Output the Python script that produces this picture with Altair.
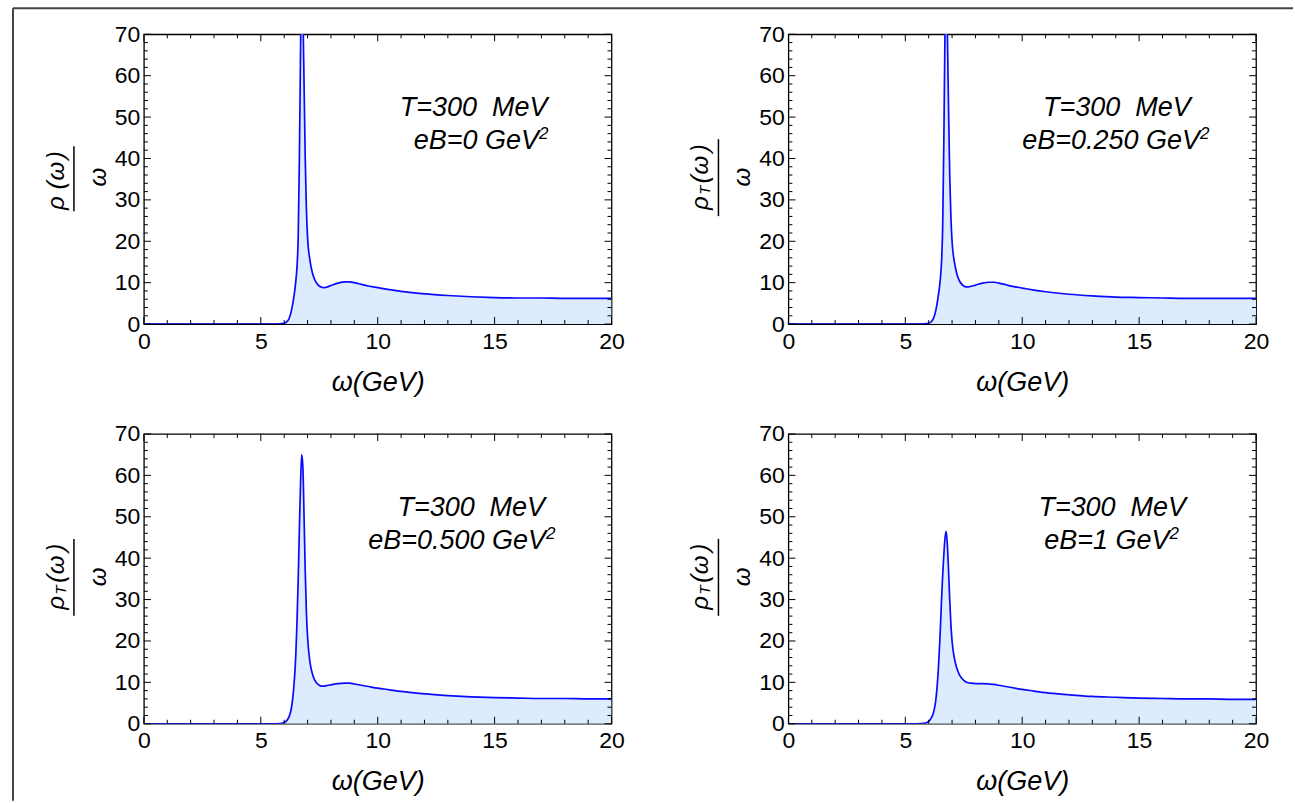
import altair as alt
import pandas as pd

# ---------------- data ----------------
omega = [0, 2, 4, 5, 5.5, 5.8, 6.0, 6.1, 6.2, 6.3, 6.4, 6.5, 6.55, 6.6, 6.65,
         6.7, 6.75, 6.8, 6.85, 6.9, 6.95, 7.0, 7.1, 7.2, 7.3, 7.4, 7.5, 7.6,
         7.7, 7.8, 8.0, 8.3, 8.6, 8.8, 9.0, 9.3, 9.6, 10, 10.5, 11, 12, 13,
         14, 15, 16, 17, 18, 19, 20]

rho_eb0 = [0, 0, 0, 0, 0, 0.05, 0.2, 0.5, 1.2, 3.0, 6.0, 10.5, 14, 21, 40,
           66, 88, 76, 58, 40, 28, 21, 15.5, 12.5, 10.8, 9.8, 9.2, 8.9,
           8.8, 8.9, 9.3, 9.9, 10.2, 10.2, 10.0, 9.6, 9.2, 8.8, 8.3, 7.9, 7.3, 6.9,
           6.6, 6.4, 6.3, 6.3, 6.2, 6.2, 6.2]

rho_eb025 = [0, 0, 0, 0, 0, 0.05, 0.2, 0.5, 1.3, 3.2, 6.4, 11, 15, 24, 45,
             72, 86, 70, 52, 36, 26, 20, 15, 12.2, 10.6, 9.7, 9.2, 9.0,
             9.0, 9.1, 9.4, 9.9, 10.1, 10.1, 9.9, 9.5, 9.1, 8.7, 8.2, 7.8, 7.2, 6.8,
             6.5, 6.4, 6.3, 6.2, 6.2, 6.2, 6.2]

rho_eb050 = [0, 0, 0, 0, 0, 0.05, 0.3, 0.7, 1.6, 3.5, 8.0, 17, 25, 35, 47,
             58, 65, 62, 50, 37, 27, 21, 15, 12.2, 10.6, 9.8, 9.3, 9.1,
             9.1, 9.2, 9.4, 9.7, 9.8, 9.8, 9.6, 9.3, 9.0, 8.6, 8.2, 7.8, 7.2, 6.8,
             6.5, 6.3, 6.2, 6.1, 6.1, 6.0, 6.0]

rho_eb100 = [0, 0, 0, 0, 0, 0.1, 0.6, 1.3, 2.6, 5.5, 12, 23, 30, 36, 41,
             45, 46.5, 43, 37, 30, 24, 20, 15.8, 13.5, 12, 11.1, 10.5, 10.1,
             9.9, 9.8, 9.7, 9.7, 9.6, 9.5, 9.3, 9.0, 8.7, 8.3, 7.9, 7.5, 7.0, 6.6,
             6.4, 6.2, 6.1, 6.0, 6.0, 5.9, 5.9]

panel_eb = ["eB=0 GeV", "eB=0.250 GeV", "eB=0.500 GeV", "eB=1 GeV"]
panel_temp = "T=300\u00a0\u00a0MeV"

x_major = [0, 5, 10, 15, 20]
x_minor = [1, 2, 3, 4, 6, 7, 8, 9, 11, 12, 13, 14, 16, 17, 18, 19]
y_major = [0, 10, 20, 30, 40, 50, 60, 70]
y_minor = [2, 4, 6, 8, 12, 14, 16, 18, 22, 24, 26, 28, 32, 34, 36, 38,
           42, 44, 46, 48, 52, 54, 56, 58, 62, 64, 66, 68]

# ---------------- styling ----------------
W, H = 468, 290
FONT = "Liberation Sans"
LINE = "#0a0aff"
FILL = "#dcebfd"
dummy = pd.DataFrame({"d": [0]})

XS = alt.Scale(domain=[0, 20], nice=False, zero=False)
YS = alt.Scale(domain=[0, 70], nice=False)
XAXIS = alt.Axis(values=x_major, ticks=False, domain=False, grid=False,
                 labelFont=FONT, labelFontSize=23, labelColor="black",
                 labelPadding=6, labelFlush=False, labelOverlap=False,
                 title="ω(GeV)", titleFont=FONT, titleFontSize=27,
                 titleFontStyle="italic", titleFontWeight="normal",
                 titleColor="black", titleY=58, titleBaseline="middle")
YAXIS = alt.Axis(values=y_major, ticks=False, domain=False, grid=False,
                 labelFont=FONT, labelFontSize=23, labelColor="black",
                 labelPadding=4, labelFlush=False, labelOverlap=False,
                 title=None)


def xq(field):
    return alt.X(field, type="quantitative", scale=XS, axis=XAXIS, title="ω(GeV)")


def yq(field):
    return alt.Y(field, type="quantitative", scale=YS, axis=YAXIS, title=None)


def text_layer(txt, x, y, size=24, angle=None, align="center",
               baseline="alphabetic", style="italic", dy=None):
    kw = dict(text=txt, font=FONT, fontSize=size, fontStyle=style,
              color="black", align=align, baseline=baseline)
    if angle is not None:
        kw["angle"] = angle
    if dy is not None:
        kw["dy"] = dy
    return alt.Chart(dummy).mark_text(**kw).encode(x=x, y=y)


def panel(values, eb_text, subscript, ann_x, eb_right, frame=False):
    df = pd.DataFrame({"w": omega, "r": values})
    base = alt.Chart(df)
    area = base.mark_area(color=FILL, clip=True, interpolate="monotone").encode(
        x=xq("w"), y=yq("r"))
    line = base.mark_line(color=LINE, strokeWidth=1.7, clip=True,
                          interpolate="monotone").encode(x=xq("w"), y=yq("r"))

    layers = [area, line]

    # inward frame ticks on all four sides
    for vals, L in ((x_major, 7), (x_minor, 4)):
        d = pd.DataFrame({"w": vals})
        layers.append(alt.Chart(d).mark_rule(color="black", strokeWidth=1).encode(
            x=xq("w"), y=alt.value(H), y2=alt.value(H - L)))
        layers.append(alt.Chart(d).mark_rule(color="black", strokeWidth=1).encode(
            x=xq("w"), y=alt.value(0), y2=alt.value(L)))
    for vals, L in ((y_major, 7), (y_minor, 4)):
        d = pd.DataFrame({"r": vals})
        layers.append(alt.Chart(d).mark_rule(color="black", strokeWidth=1).encode(
            y=yq("r"), x=alt.value(0), x2=alt.value(L)))
        layers.append(alt.Chart(d).mark_rule(color="black", strokeWidth=1).encode(
            y=yq("r"), x=alt.value(W), x2=alt.value(W - L)))

    # annotations (data coordinates)
    layers.append(text_layer(panel_temp, alt.datum(ann_x), alt.datum(50.2), size=27))
    layers.append(text_layer(eb_text, alt.datum(eb_right), alt.datum(42.2), size=27,
                             align="right"))
    layers.append(text_layer("2", alt.datum(eb_right), alt.datum(42.2), size=17,
                             align="left", dy=-10))

    # y-axis title as a fraction  rho(omega) / omega
    bx = -80
    if subscript:
        layers.append(text_layer("ρ", alt.value(bx), alt.value(169), angle=270))
        layers.append(text_layer("T", alt.value(bx + 2), alt.value(156), size=15, angle=270))
        layers.append(text_layer("(", alt.value(bx), alt.value(145), angle=270))
        layers.append(text_layer("ω", alt.value(bx), alt.value(131), angle=270))
        layers.append(text_layer(")", alt.value(bx), alt.value(114), angle=270))
        b0, b1 = 105, 182
    else:
        layers.append(text_layer("ρ", alt.value(bx), alt.value(169), angle=270))
        layers.append(text_layer("(", alt.value(bx), alt.value(151), angle=270))
        layers.append(text_layer("ω", alt.value(bx), alt.value(137), angle=270))
        layers.append(text_layer(")", alt.value(bx), alt.value(121), angle=270))
        b0, b1 = 112, 177
    layers.append(alt.Chart(dummy).mark_rule(color="black", strokeWidth=1.5).encode(
        x=alt.value(-70), y=alt.value(b0), y2=alt.value(b1)))
    layers.append(text_layer("ω", alt.value(-38), alt.value(143), angle=270))

    if frame:
        layers.append(alt.Chart(dummy).mark_rule(color="#444444", strokeWidth=2).encode(
            x=alt.value(-131), y=alt.value(-26), y2=alt.value(767)))
        layers.append(alt.Chart(dummy).mark_rule(color="#444444", strokeWidth=2).encode(
            x=alt.value(-131), x2=alt.value(1150), y=alt.value(-26)))

    return alt.layer(*layers).properties(width=W, height=H)


p1 = panel(rho_eb0, panel_eb[0], False, 14.1, 16.9, frame=True)
p2 = panel(rho_eb025, panel_eb[1], True, 14.05, 17.6)
p3 = panel(rho_eb050, panel_eb[2], True, 14.0, 17.2)
p4 = panel(rho_eb100, panel_eb[3], True, 13.85, 16.3)

chart = alt.concat(p1, p2, p3, p4, columns=2,
                   spacing={"row": 110, "column": 177},
                   bounds="flush").properties(
    padding={"left": 11, "top": 6, "right": 0, "bottom": 0},
    background="white",
).configure_view(stroke="black", strokeWidth=1.3)

chart.save("out.html", embed_options={"renderer": "svg", "actions": False})
